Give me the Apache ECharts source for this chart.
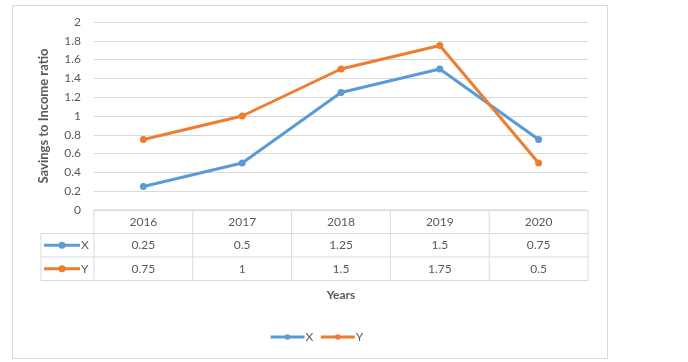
<!DOCTYPE html>
<html><head><meta charset="utf-8">
<script src="https://cdn.jsdelivr.net/npm/echarts@6/dist/echarts.min.js"></script>
<style>html,body{margin:0;padding:0;background:#fff}#c{width:688px;height:362px}</style>
</head><body><div id="c"></div>
<script>
const years = ['2016', '2017', '2018', '2019', '2020'];
const seriesNames = ['X', 'Y'];
const valuesX = [0.25, 0.5, 1.25, 1.5, 0.75];
const valuesY = [0.75, 1, 1.5, 1.75, 0.5];
const colors = ['#5B9BD5', '#ED7D31'];
const FONT = 'Lato, "Open Sans", sans-serif';
const chart = echarts.init(document.getElementById('c'));
const gridL = 94, gridR = 100, gridT = 22, gridB = 152;
chart.setOption({
  animation: false,
  backgroundColor: '#fff',
  grid: {left: gridL, right: gridR, top: gridT, bottom: gridB, containLabel: false},
  legend: {
    data: seriesNames, bottom: 14, left: 264, itemWidth: 34, itemHeight: 7, itemGap: 6,
    lineStyle: {width: 3},
    textStyle: {color: '#595959', fontSize: 12, fontFamily: FONT, padding: [0, 0, 0, -4]}
  },
  xAxis: {
    type: 'category', data: years, boundaryGap: true,
    axisLine: {show: false}, axisTick: {show: false}, axisLabel: {show: false}
  },
  yAxis: {
    type: 'value', min: 0, max: 2, interval: 0.2,
    name: 'Savings to Income ratio', nameLocation: 'middle', nameGap: 44,
    nameTextStyle: {color: '#595959', fontSize: 13, fontWeight: 'bold', fontFamily: FONT},
    axisLine: {show: false}, axisTick: {show: false},
    axisLabel: {color: '#595959', fontSize: 12, margin: 13, fontFamily: FONT},
    splitLine: {lineStyle: {color: '#d9d9d9', width: 1}}
  },
  series: [
    {name: 'X', type: 'line', data: valuesX, symbol: 'circle', symbolSize: 7,
     itemStyle: {color: colors[0]}, lineStyle: {width: 3, color: colors[0]}},
    {name: 'Y', type: 'line', data: valuesY, symbol: 'circle', symbolSize: 7,
     itemStyle: {color: colors[1]}, lineStyle: {width: 3, color: colors[1]}}
  ]
});

// Data table below the axis, positioned from the axis scale
const w = 688, h = 362;
const x0 = gridL, x1 = w - gridR;
const yBase = chart.convertToPixel({yAxisIndex: 0}, 0);
const rowH = 23.5;
const keyLeft = 41;
const border = '#d9d9d9';
const els = [];
els.push({type: 'rect', shape: {x: 12.5, y: 5.5, width: 595, height: 353}, style: {fill: null, stroke: '#d9d9d9', lineWidth: 1}, silent: true});
const band = (x1 - x0) / years.length;
els.push({type: 'line', shape: {x1: x0, y1: yBase, x2: x1, y2: yBase}, style: {stroke: border, lineWidth: 1}});
for (let r = 1; r <= 3; r++) {
  const y = yBase + r * rowH;
  els.push({type: 'line', shape: {x1: keyLeft, y1: y, x2: x1, y2: y}, style: {stroke: border, lineWidth: 1}});
}
els.push({type: 'line', shape: {x1: keyLeft, y1: yBase + rowH, x2: keyLeft, y2: yBase + 3 * rowH}, style: {stroke: border, lineWidth: 1}});
for (let i = 0; i <= years.length; i++) {
  const cx = i < years.length ? chart.convertToPixel({xAxisIndex: 0}, years[i]) - band / 2 : chart.convertToPixel({xAxisIndex: 0}, years[years.length - 1]) + band / 2;
  els.push({type: 'line', shape: {x1: cx, y1: yBase, x2: cx, y2: yBase + 3 * rowH}, style: {stroke: border, lineWidth: 1}});
}
const rows = [valuesX, valuesY];
years.forEach((yr, i) => {
  const cx = chart.convertToPixel({xAxisIndex: 0}, yr);
  els.push({type: 'text', x: cx, y: yBase + rowH / 2, style: {text: yr, align: 'center', verticalAlign: 'middle', fill: '#595959', fontSize: 12, fontFamily: FONT}});
  rows.forEach((vals, r) => {
    els.push({type: 'text', x: cx, y: yBase + rowH * (r + 1.5), style: {text: String(vals[i]), align: 'center', verticalAlign: 'middle', fill: '#595959', fontSize: 12, fontFamily: FONT}});
  });
});
seriesNames.forEach((n, r) => {
  const cy = yBase + rowH * (r + 1.5);
  els.push({type: 'line', shape: {x1: 44, y1: cy, x2: 80, y2: cy}, style: {stroke: colors[r], lineWidth: 3}});
  els.push({type: 'circle', shape: {cx: 62, cy: cy, r: 3.5}, style: {fill: colors[r]}});
  els.push({type: 'text', x: 81, y: cy, style: {text: n, align: 'left', verticalAlign: 'middle', fill: '#595959', fontSize: 12, fontFamily: FONT}});
});
els.push({type: 'text', x: (x0 + x1) / 2, y: yBase + 3 * rowH + 15, style: {text: 'Years', align: 'center', verticalAlign: 'middle', fill: '#595959', fontSize: 12, fontWeight: 'bold', fontFamily: FONT}});
chart.setOption({graphic: {elements: els}});
</script></body></html>
